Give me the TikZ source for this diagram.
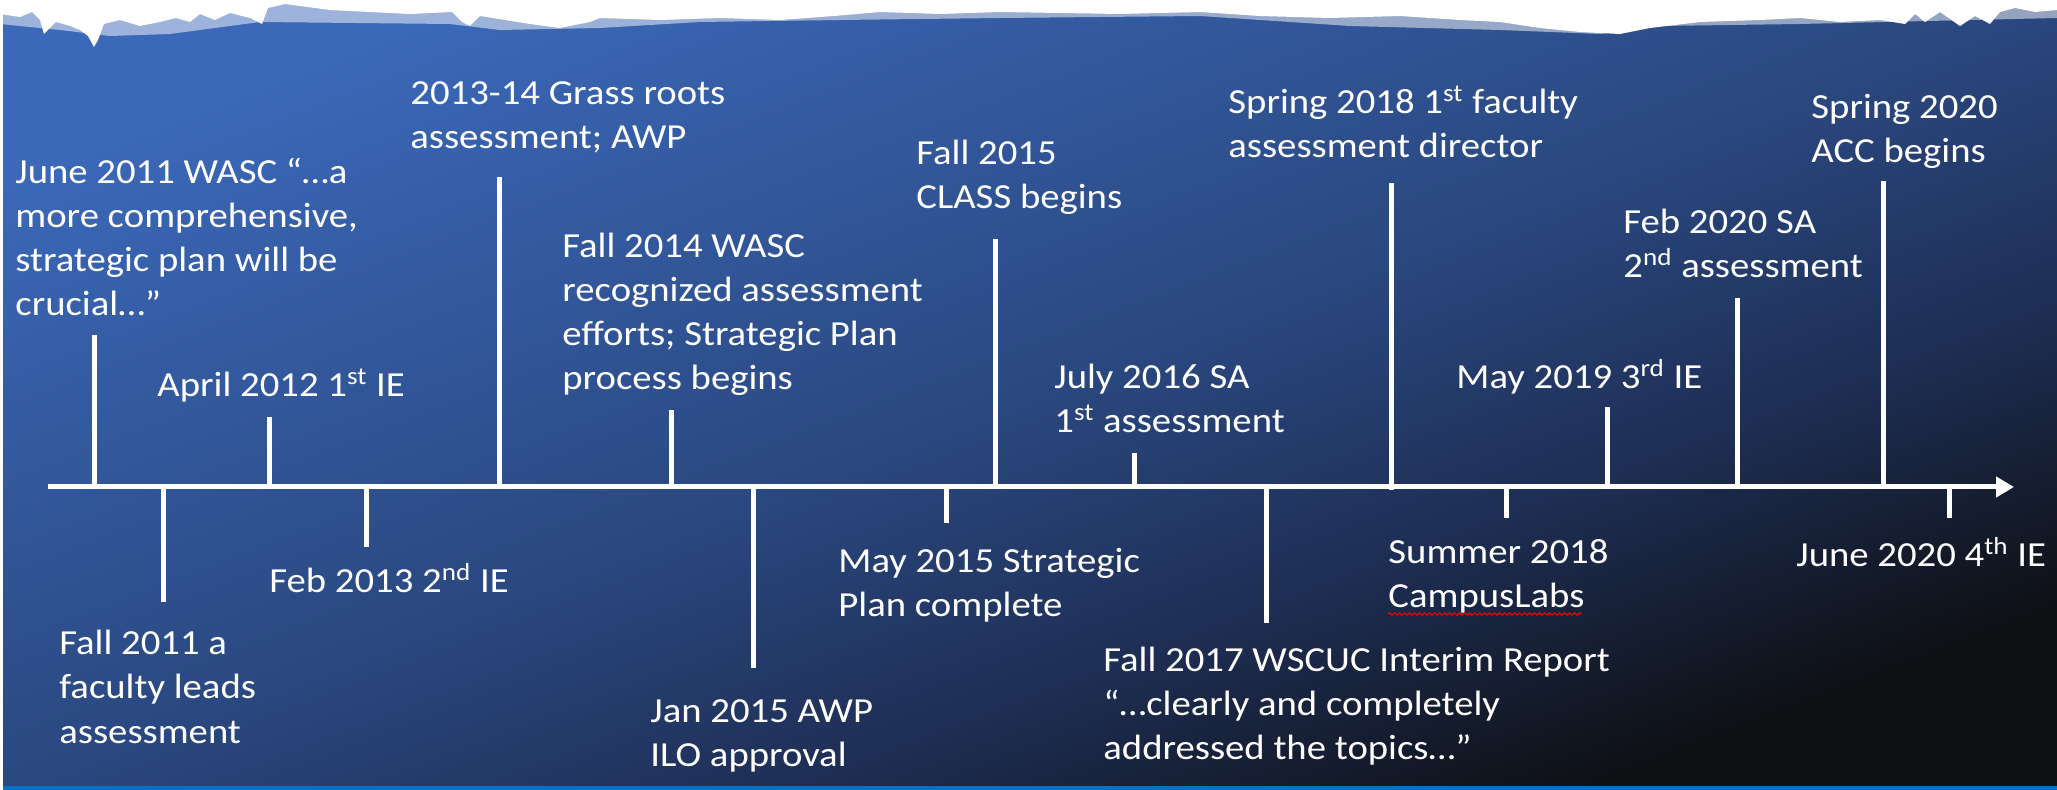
\documentclass[tikz,border=0pt]{standalone}
\usepackage{fontspec}
\setmainfont{Carlito}[FakeStretch=1.1]
\usetikzlibrary{arrows.meta,decorations.pathmorphing}
\definecolor{bgblue}{RGB}{59,104,184}
\definecolor{bgmid}{RGB}{42,72,128}
\definecolor{bgdeep}{RGB}{30,46,84}
\definecolor{bgdark}{RGB}{14,16,20}
\definecolor{stripe}{RGB}{10,112,196}
\pgfdeclareverticalshading{bgshade}{100bp}{color(0bp)=(bgdark); color(25bp)=(bgdark);
  color(37.5bp)=(bgdeep); color(50bp)=(bgmid); color(75bp)=(bgblue); color(100bp)=(bgblue)}
\tikzset{
  tick/.style={white, line width=2.5pt},
  event/.style={anchor=base west, align=left, inner sep=0pt, text=white,
    font=\fontsize{17.6}{22}\selectfont},
}
\begin{document}
\begin{tikzpicture}[x=0.5pt,y=-0.5pt]
\useasboundingbox (0,0) rectangle (2057,790);
% background
\shade[shading=bgshade, shading angle=21] (0,0) rectangle (2057,790);
\fill[stripe] (0,786) rectangle (2057,790);
\fill[white] (0,0) rectangle (3,790);
% brush edge
\fill[white, opacity=0.5] (0,0) -- (0,24) -- (60,30) -- (110,36) -- (170,34) -- (260,22)
  -- (450,24) -- (500,30) -- (600,28) -- (700,22) -- (840,20) -- (1000,18) -- (1200,16)
  -- (1350,26) -- (1500,30) -- (1600,34) -- (1660,26) -- (1800,24) -- (2057,18) -- (2057,0) -- cycle;
\fill[white] (0,0) -- (0,14) -- (20,17) -- (32,12) -- (40,20) -- (44,34) -- (48,30)
  -- (56,22) -- (70,26) -- (80,30) -- (88,36) -- (94,47) -- (98,40) -- (104,24)
  -- (120,20) -- (140,26) -- (160,22) -- (176,18) -- (190,22) -- (200,14) -- (215,20)
  -- (230,13) -- (250,18) -- (262,24) -- (268,8) -- (285,4) -- (300,6) -- (330,10)
  -- (370,12) -- (410,14) -- (452,12) -- (462,22) -- (470,26) -- (480,16) -- (505,20)
  -- (530,24) -- (560,28) -- (590,22) -- (600,18) -- (660,20) -- (720,18) -- (780,20)
  -- (834,16) -- (880,12) -- (940,14) -- (1000,12) -- (1060,13) -- (1120,14) -- (1200,12)
  -- (1260,16) -- (1330,18) -- (1400,16) -- (1460,20) -- (1500,22) -- (1540,28)
  -- (1580,32) -- (1620,34) -- (1650,28) -- (1700,22) -- (1760,20) -- (1800,18)
  -- (1840,22) -- (1880,20) -- (1905,24) -- (1915,14) -- (1925,22) -- (1940,12)
  -- (1960,26) -- (1975,16) -- (1990,24) -- (2000,12) -- (2015,8) -- (2035,12)
  -- (2057,10) -- (2057,0) -- cycle;
% axis
\coordinate (start) at (48,487);
\coordinate (end) at (2014,487);
\draw[tick, -{Triangle[length=9pt,width=10pt]}] (start) -- (end);
% events above the axis
\coordinate (a1) at (94,487);   \coordinate (a1t) at (94,335);
\coordinate (a2) at (269,487);  \coordinate (a2t) at (269,417);
\coordinate (a3) at (499,487);  \coordinate (a3t) at (499,177);
\coordinate (a4) at (671,487);  \coordinate (a4t) at (671,410);
\coordinate (a5) at (995,487);  \coordinate (a5t) at (995,239);
\coordinate (a6) at (1134,487); \coordinate (a6t) at (1134,453);
\coordinate (a7) at (1391,490); \coordinate (a7t) at (1391,183);
\coordinate (a8) at (1607,487); \coordinate (a8t) at (1607,407);
\coordinate (a9) at (1737,487); \coordinate (a9t) at (1737,298);
\coordinate (a10) at (1883,487); \coordinate (a10t) at (1883,181);
\foreach \i in {1,...,10} \draw[tick] (a\i) -- (a\i t);
% events below the axis
\coordinate (b1) at (163,487);  \coordinate (b1t) at (163,602);
\coordinate (b2) at (366,487);  \coordinate (b2t) at (366,547);
\coordinate (b3) at (753,487);  \coordinate (b3t) at (753,668);
\coordinate (b4) at (946,487);  \coordinate (b4t) at (946,523);
\coordinate (b5) at (1266,487); \coordinate (b5t) at (1266,623);
\coordinate (b6) at (1506,487); \coordinate (b6t) at (1506,518);
\coordinate (b7) at (1949,487); \coordinate (b7t) at (1949,518);
\foreach \i in {1,...,7} \draw[tick] (b\i) -- (b\i t);
% labels (placed at the baseline of their last line)
\node[event] (june11) at (15,316) {June 2011 WASC “…a\\more comprehensive,\\strategic plan will be\\crucial…”};
\node[event] (april12) at (157,397) {April 2012 1\textsuperscript{st} IE};
\node[event] (grass) at (410,149) {2013-14 Grass roots\\assessment; AWP};
\node[event] (fall14) at (562,390) {Fall 2014 WASC\\recognized assessment\\efforts; Strategic Plan\\process begins};
\node[event] (fall15) at (916,209) {Fall 2015\\CLASS begins};
\node[event] (july16) at (1054,433) {July 2016 SA\\1\textsuperscript{st} assessment};
\node[event] (spring18) at (1228,158) {Spring 2018 1\textsuperscript{st} faculty\\assessment director};
\node[event] (may19) at (1456,389) {May 2019 3\textsuperscript{rd} IE};
\node[event] (feb20) at (1623,278) {Feb 2020 SA\\2\textsuperscript{nd} assessment};
\node[event] (spring20) at (1811,163) {Spring 2020\\ACC begins};
\node[event] (fall11) at (59,743) {Fall 2011 a\\faculty leads\\assessment};
\node[event] (feb13) at (269,593) {Feb 2013 2\textsuperscript{nd} IE};
\node[event] (jan15) at (650,767) {Jan 2015 AWP\\ILO approval};
\node[event] (may15) at (838,617) {May 2015 Strategic\\Plan complete};
\node[event] (fall17) at (1103,760) {Fall 2017 WSCUC Interim Report\\“…clearly and completely\\addressed the topics…”};
\node[event] (summer18) at (1388,608) {Summer 2018\\CampusLabs};
\node[event] (june20) at (1796,567) {June 2020 4\textsuperscript{th} IE};
% spell check mark
\draw[red, line width=0.5pt, decorate, decoration={snake, amplitude=0.6pt, segment length=2.5pt}]
  (1388,614) -- (1582,614);
\end{tikzpicture}
\end{document}
